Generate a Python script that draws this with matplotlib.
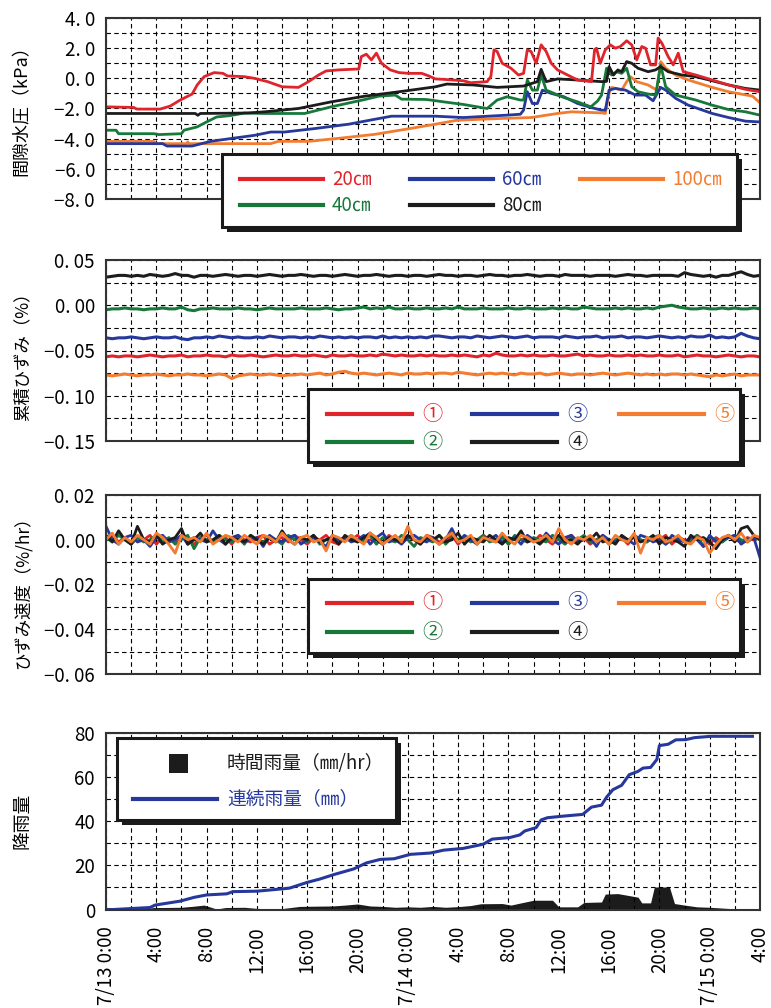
import numpy as np
import matplotlib
matplotlib.use('Agg')
import matplotlib.pyplot as plt
from matplotlib.patches import Rectangle
from matplotlib.lines import Line2D
from matplotlib.transforms import Affine2D

plt.rcParams['font.family'] = ['Noto Sans CJK JP', 'DejaVu Sans']
NUM_FONT = ['Noto Sans CJK JP', 'DejaVu Sans']

RED, GREEN, BLUE, ORANGE, BLACK = '#e0242b', '#17783a', '#26389b', '#f47c30', '#1c1c1c'

# ---- pore water pressure (kPa), hours from 7/13 0:00
red_t = [0, 2.2, 2.45, 4.3, 5.1, 5.9, 6.85, 7.25, 7.8, 8.6, 9.3, 9.65, 11, 11.8, 12.85, 14, 15.3, 16.1,
         16.9, 17.5, 18.5, 20.1, 20.3, 20.7, 21.1, 21.5, 21.9, 22.6, 23.3, 24.05, 25.1, 25.6, 26.2,
         26.85, 28.4, 29, 30.3, 30.6, 30.85, 31.1, 31.5, 32.2, 32.8, 33.2, 33.5, 33.8, 34.2, 34.6, 35,
         35.4, 35.9, 36.7, 37.5, 38.6, 38.85, 39.0, 39.3, 39.7, 40.1, 40.5, 40.9, 41.4, 41.8, 42.2,
         42.6, 42.9, 43.3, 43.7, 43.9, 44.2, 44.7, 45.1, 45.5, 45.9, 46.9, 48.2, 49.5, 50.85, 52]
red_v = [-1.89, -1.93, -2.04, -2.04, -1.84, -1.44, -1.04, -0.44, 0.11, 0.38, 0.33, 0.16, 0.11, 0.0, -0.22,
         -0.56, -0.6, -0.22, 0.22, 0.49, 0.56, 0.62, 1.44, 1.6, 1.22, 1.67, 1.0, 0.56, 0.38, 0.33, 0.33,
         0.18, -0.04, -0.07, -0.16, -0.29, -0.22, 0.11, 1.89, 1.78, 1.0, 0.67, 0.22, 0.33, 1.89, 1.78,
         1.0, 2.22, 1.78, 1.0, 0.56, 0.22, -0.11, -0.22, 1.9, 2.0, 1.0, 1.89, 2.22, 2.0, 2.11, 2.49,
         2.22, 1.22, 2.11, 2.0, 0.89, 0.89, 2.67, 2.33, 1.44, 0.89, 1.67, 0.44, 0.22, -0.11, -0.44,
         -0.73, -0.89]
black_t = [0, 7.1, 7.3, 7.5, 11.25, 12.6, 15.3, 17.9, 20.6, 23.3, 26.2, 27.1, 29.2, 31.1, 33.2, 34.3,
           34.6, 35.0, 35.9, 37.5, 39.4, 39.8, 40.0, 40.35, 40.7, 41.0, 41.4, 41.8, 42.3, 43.1, 43.7,
           44.1, 44.7, 45.8, 46.9, 48.2, 49.5, 50.85, 52]
black_v = [-2.33, -2.33, -2.45, -2.33, -2.3, -2.22, -2.0, -1.56, -1.18, -0.89, -0.56, -0.38, -0.44, -0.6,
           -0.51, -0.22, 0.6, -0.22, -0.04, -0.11, -0.22, -0.2, 0.78, 0.22, 0.56, 0.44, 1.11, 1.0, 0.67,
           0.44, 0.56, 0.78, 0.44, 0.22, 0.11, -0.16, -0.44, -0.67, -0.78]
green_t = [0, 0.8, 1.0, 3.8, 4.2, 6.0, 6.2, 7.25, 8.0, 8.8, 9.9, 11.0, 12.6, 15.8, 17.9, 20.6, 21.7, 23.0,
           23.5, 25.4, 25.8, 26.85, 28.4, 30.3, 31.1, 31.9, 32.95, 33.2, 33.5, 33.9, 34.3, 34.6, 35.0,
           36.4, 37.5, 38.55, 39.1, 39.4, 39.8, 40.2, 40.6, 41.0, 41.4, 41.8, 42.3, 43.1, 43.7, 44.1,
           44.5, 45.3, 46.9, 48.2, 49.5, 50.85, 52]
green_v = [-3.44, -3.44, -3.67, -3.67, -3.73, -3.67, -3.44, -3.22, -2.89, -2.56, -2.47, -2.3, -2.33, -2.33,
           -1.89, -1.4, -1.18, -1.11, -1.38, -1.4, -1.44, -1.56, -1.73, -2.0, -1.44, -1.22, -1.44, -1.44,
           -0.11, -0.78, -0.78, 0.22, -0.78, -1.27, -1.56, -1.89, -1.49, -1.11, 0.67, 0.22, 0.44, 0.33,
           0.67, -0.56, -0.89, -1.04, -1.11, 0.89, -0.56, -1.11, -1.44, -1.78, -2.07, -2.22, -2.44]
blue_t = [0, 4.5, 4.85, 6.85, 8.3, 10.2, 11.8, 13.1, 14.2, 16.6, 19.3, 21.4, 22.7, 26.2, 28.4, 31.9,
          32.95, 33.2, 33.5, 33.9, 34.3, 34.7, 35.4, 36.4, 37.5, 38.55, 39.4, 39.7, 40.0, 40.5, 41.3,
          42.1, 42.9, 43.5, 44.1, 44.5, 45.3, 46.3, 48.2, 49.5, 50.85, 52]
blue_v = [-4.33, -4.33, -4.49, -4.49, -4.18, -3.96, -3.78, -3.56, -3.56, -3.33, -3.04, -2.71, -2.51, -2.51,
          -2.6, -2.44, -2.38, -2.11, -0.89, -1.67, -1.67, -0.78, -1.0, -1.22, -1.67, -1.93, -2.11, -2.11,
          -0.78, -0.67, -0.78, -1.11, -1.11, -1.49, -0.6, -0.78, -1.33, -1.78, -2.33, -2.6, -2.84, -2.89]
orange_t = [0, 3.8, 4.0, 6.4, 6.5, 6.6, 13.1, 13.7, 16.1, 18.7, 21.4, 23.8, 26.2, 27.9, 31.1, 33.8, 35.9,
            37.0, 39.4, 39.7, 40.0, 40.2, 41.0, 41.4, 41.7, 42.2, 43.1, 43.8, 44.1, 44.5, 45.3, 46.3,
            48.2, 49.5, 51.4, 52]
orange_v = [-4.18, -4.18, -4.33, -4.33, -4.22, -4.33, -4.33, -4.18, -4.18, -3.96, -3.71, -3.38, -3.04,
            -2.78, -2.67, -2.6, -2.33, -2.22, -2.29, -2.33, -1.0, -0.6, -0.78, -0.22, 0.11, -0.22, -0.44,
            -0.78, 1.11, 0.67, 0.22, -0.11, -0.6, -0.89, -1.18, -1.62]

# ---- cumulative strain (0.001 %), every 30 min
t_s = np.arange(105) * 0.5
strain_red = [-57, -56, -57, -56, -56, -57, -56, -55, -56, -57, -56, -56, -55, -57, -56, -56, -55, -56, -56, -57,
              -55, -56, -56, -55, -56, -57, -56, -55, -56, -56, -55, -56, -56, -55, -56, -57, -55, -56, -56, -55,
              -56, -56, -55, -56, -54, -55, -56, -55, -56, -56, -55, -56, -55, -56, -56, -55, -56, -55, -56, -57,
              -55, -56, -53, -55, -56, -56, -55, -56, -55, -56, -56, -55, -56, -56, -55, -54, -56, -55, -56, -56,
              -55, -56, -56, -55, -56, -55, -56, -56, -55, -56, -56, -55, -57, -56, -55, -56, -56, -57, -56, -55,
              -56, -57, -56, -56, -57]
strain_green = [-5, -4, -4, -3, -4, -4, -5, -4, -4, -3, -4, -4, -2, -5, -6, -4, -4, -3, -4, -4,
                -4, -3, -4, -4, -5, -4, -3, -4, -4, -4, -4, -3, -4, -4, -4, -3, -4, -5, -4, -4,
                -3, -2, -4, -3, -4, -2, -4, -4, -3, -4, -4, -3, -4, -4, -3, -4, -2, -4, -4, -4,
                -3, -4, -4, -4, -3, -4, -4, -3, -4, -4, -4, -3, -4, -3, -4, -4, -2, -3, -4, -4,
                -4, -3, -4, -3, -4, -4, -3, -4, -2, -1, 0, -2, -3, -4, -4, -3, -4, -4, -3, -4,
                -3, -4, -4, -3, -4]
strain_blue = [-36, -37, -36, -36, -35, -36, -37, -36, -35, -36, -36, -35, -37, -38, -36, -36, -35, -36, -34, -35,
               -36, -35, -36, -36, -35, -36, -34, -35, -36, -35, -35, -36, -35, -36, -34, -35, -36, -35, -36, -35,
               -36, -35, -35, -36, -34, -36, -35, -36, -35, -36, -35, -36, -34, -34, -35, -36, -35, -35, -36, -34,
               -35, -36, -35, -34, -35, -36, -35, -34, -36, -35, -35, -35, -36, -34, -35, -36, -35, -35, -34, -36,
               -35, -35, -34, -36, -35, -35, -36, -35, -34, -35, -36, -35, -36, -34, -35, -35, -33, -36, -35, -36,
               -35, -31, -34, -36, -37]
strain_black = [31, 32, 33, 33, 32, 33, 32, 34, 33, 32, 33, 35, 33, 33, 31, 33, 33, 32, 33, 34,
                33, 32, 33, 33, 32, 33, 34, 33, 32, 33, 33, 34, 33, 32, 33, 33, 32, 33, 34, 33,
                32, 33, 33, 34, 33, 32, 33, 33, 32, 33, 33, 32, 33, 34, 33, 33, 32, 33, 33, 32,
                33, 34, 33, 33, 32, 33, 33, 34, 33, 32, 33, 33, 32, 34, 33, 33, 33, 32, 33, 33,
                33, 32, 33, 34, 33, 33, 32, 33, 33, 33, 33, 32, 36, 34, 33, 32, 33, 31, 33, 33,
                35, 37, 34, 32, 33]
strain_orange = [-77, -78, -77, -76, -77, -78, -77, -77, -76, -77, -78, -77, -77, -76, -77, -77, -78, -77, -76, -77,
                 -81, -78, -77, -76, -77, -77, -76, -77, -78, -77, -77, -76, -77, -76, -75, -77, -76, -74, -73, -75,
                 -76, -75, -76, -77, -76, -75, -76, -77, -75, -76, -76, -75, -76, -75, -75, -76, -74, -75, -76, -77,
                 -76, -75, -76, -75, -76, -77, -75, -76, -76, -75, -77, -76, -75, -76, -77, -76, -76, -77, -76, -75,
                 -76, -77, -76, -75, -76, -77, -76, -77, -76, -77, -76, -76, -77, -76, -77, -78, -79, -77, -78, -77,
                 -76, -78, -77, -77, -77]

# ---- strain rate (0.001 %/hr), every 30 min
rate_red = [0, 2, -1, 1, -2, 1, 0, 2, -2, 1, 0, -1, 2, 0, -2, 1, 2, -1, 0, 1,
            -2, 2, 0, -1, 1, 2, -2, 0, 1, -1, 2, 0, -2, 1, 0, 2, -1, -2, 1, 0,
            2, -1, 0, 1, -2, 2, 0, -1, 1, 0, -2, 2, 1, -1, 0, 2, -2, 1, 0, -1,
            2, 0, -1, 2, -2, 1, 0, 1, -1, 2, 0, -2, 1, 0, 2, -1, 1, -2, 0, 2,
            -1, 0, 1, -2, 2, 0, -1, 1, 0, 2, -2, 1, 0, -1, 2, 0, -2, 1, -1, 2,
            0, -1, 1, 0, 1]
rate_green = [1, -1, 2, 0, -2, 1, -1, 0, 2, -1, 1, -2, 0, 2, -4, 1, 0, -1, 2, 0,
              -1, 1, -2, 2, 0, -1, 1, 0, -2, 2, 0, 1, -1, 2, -2, 0, 1, -1, 0, 2,
              -1, 0, 2, -2, 1, 0, -1, 2, 0, -3, 1, 0, -1, 2, -2, 1, 0, 1, -1, 0,
              2, -1, 0, 1, -2, 2, 0, -1, 1, 0, -1, 2, 0, -2, 1, 0, 2, -1, 0, 1,
              -2, 0, 1, -1, 2, 0, -1, 1, 2, -2, 0, 1, -1, 0, 2, -3, 1, 0, -1, 1,
              2, 0, -1, 1, 0]
rate_blue = [6, 0, -2, 1, 2, -1, 0, -3, 1, 2, -1, 0, 2, -2, 1, 0, -1, 4, 0, -2,
             1, 2, -1, 0, 1, -3, 2, 0, -1, 1, 2, -2, 0, 1, -1, -3, 2, 0, 1, -1,
             0, 2, -2, 1, 3, -1, 0, -2, 1, 2, 0, -1, 1, -2, 0, 5, -1, 2, 0, -2,
             1, 0, 2, -1, 0, 1, -2, 2, 0, -1, 3, 0, -2, 1, 2, -1, 0, 1, -3, 2,
             0, -1, 1, 0, -2, 2, 1, -1, 0, -2, 2, 0, -1, 1, 0, -3, 2, -1, 0, 1,
             2, -2, 0, 1, -8]
rate_black = [2, -1, 4, 0, -2, 6, 0, -1, 2, -2, 0, 1, 5, -2, 0, 3, -1, 0, 2, -2,
              1, 0, -1, 2, 0, -2, 1, -1, 4, 0, -2, 1, 0, 2, -1, 0, 1, -2, 2, 0,
              -1, 1, 3, 0, -2, 1, 0, -1, 2, 0, -2, 1, 0, 2, -1, 0, 3, -2, 1, 0,
              -1, 2, 0, -2, 1, 0, 4, -1, 0, -2, 1, 0, 2, -1, 0, -2, 1, 0, 3, -1,
              0, -2, 2, 0, 1, -1, 0, 2, -2, 1, 0, -1, -3, 2, 0, 1, -1, -4, 0, 2,
              -1, 5, 6, 2, 0]
rate_orange = [0, 3, -2, 1, -1, 2, 0, -2, 3, 1, -2, -6, 2, 0, 1, -1, 3, -2, 0, 2,
               1, -1, 2, 0, -2, 2, 1, -1, 3, 0, -2, 1, 2, -1, 0, -5, 2, 1, -1, 2,
               0, -2, 3, 1, -2, 0, 2, -1, 6, 0, -1, 2, 0, -2, 1, 3, -1, 0, 2, -2,
               1, 0, -1, 3, 0, -2, 2, 1, -1, 0, 2, -1, 5, 0, -2, 1, 0, 2, -1, 1,
               -2, 2, 0, -1, 3, -6, 1, 0, 2, -1, 0, 2, -1, -2, 1, 0, -6, -2, 1, 2,
               0, 3, -1, 2, 1]

# ---- rainfall
rain_t = [0, 2, 3, 3.8, 4.5, 6, 7, 7.8, 8.8, 9.5, 11, 12, 13, 14, 15.4, 16.5, 18, 19, 20, 21,
          22, 23, 24, 25, 26, 27, 28, 29, 29.8, 31.5, 32.2, 33, 34, 35.5, 36, 37.5, 38, 39.4, 39.7, 40.7,
          42.3, 42.6, 43.3, 43.6, 44.8, 45.2, 46, 47, 48, 49.7, 51, 52]
rain_v = [0, 0, 0.2, 0.9, 0.9, 1.0, 1.5, 2.0, 0.2, 0.9, 1.0, 0.5, 0.3, 0.4, 1.4, 1.5, 1.6, 2.0, 2.5, 1.6,
          1.4, 1.0, 1.2, 1.0, 1.4, 1.0, 1.3, 1.8, 2.6, 2.7, 2.0, 3.0, 4.2, 4.2, 1.2, 1.2, 3.2, 3.4, 7.0, 7.2,
          5.6, 3.0, 3.0, 10.2, 10.2, 2.7, 2.0, 1.2, 1.0, 0.4, 0.2, 0]
cum_t = [0, 0.6, 3.5, 3.9, 5.9, 7, 8, 9.6, 10.1, 12, 14.1, 14.6, 16, 17, 18.1, 19.7, 20.7, 21.8, 22.9, 24.2,
         25.8, 26.85, 28.4, 30, 30.7, 32.1, 32.9, 33.3, 34.2, 34.6, 35.1, 36.5, 37.9, 38.6, 39.4, 39.8, 40.3,
         41, 41.6, 42.3, 42.7, 43.3, 43.8, 44.0, 44.7, 45.3, 46.1, 46.8, 48.1, 51.4]
cum_v = [0, 0, 0.9, 2.0, 3.8, 5.5, 6.6, 7.1, 8.1, 8.3, 9.4, 9.7, 12.3, 13.8, 15.8, 18.4, 21.1, 22.7, 23.0, 25.0,
         25.6, 26.9, 27.7, 29.6, 31.9, 32.6, 33.8, 35.6, 37.1, 40.6, 41.6, 42.4, 43.1, 46.4, 47.3, 50.9, 54.3,
         56.3, 61.1, 62.6, 64.1, 64.4, 68.0, 74.3, 74.9, 76.9, 77.0, 77.9, 78.5, 78.5]

xtick_labels = ['7/13 0:00', '4:00', '8:00', '12:00', '16:00', '20:00', '7/14 0:00',
                '4:00', '8:00', '12:00', '16:00', '20:00', '7/15 0:00', '4:00']

W, H = 771, 1008
fig = plt.figure(figsize=(W / 100, H / 100), dpi=100)
px = Affine2D().scale(1 / W, -1 / H).translate(0, 1) + fig.transFigure


def panel(top, bottom, yticks, yminor, fmt):
    ax = fig.add_axes([106 / W, 1 - bottom / H, 654 / W, (bottom - top) / H])
    ax.set_xlim(0, 52)
    ax.set_ylim(yticks[0], yticks[-1])
    ax.set_xticks(range(0, 53, 4))
    ax.set_xticks(range(0, 53, 2), minor=True)
    ax.set_yticks(yticks)
    ax.set_yticks(yminor, minor=True)
    ax.set_yticklabels([fmt(v) for v in yticks], family=NUM_FONT, fontsize=13.5)
    ax.set_xticklabels([])
    ax.grid(which='both', color='k', lw=0.8, ls=(0, (4, 3)))
    ax.tick_params(which='both', length=0, pad=8)
    for s in ax.spines.values():
        s.set_linewidth(1.5)
        s.set_color('#333333')
    return ax


def dfmt(n):
    return lambda v: f'{v:.{n}f}'.replace('.', '. ').replace('-', '\u2212')


def legend_box(x0, y0, x1, y1):
    fig.patches.append(Rectangle((x0 + 5, y0 + 5), x1 - x0, y1 - y0, transform=px,
                                 fc='#1a1a1a', ec='none', zorder=10))
    fig.patches.append(Rectangle((x0, y0), x1 - x0, y1 - y0, transform=px,
                                 fc='white', ec='#1a1a1a', lw=2.2, zorder=11))


def legend_line(x0, x1, y, color):
    fig.lines.append(Line2D([x0, x1], [y, y], transform=px, color=color, lw=3, zorder=12))


def legend_text(x, y, s, color, size=13.5, ha='left'):
    fig.text(x, y, s, transform=px, color=color, fontsize=size, ha=ha, va='center', zorder=13)


# panel 1: pore water pressure
ax1 = panel(18, 199, list(range(-8, 5, 2)), list(range(-8, 5, 1)), dfmt(1))
for t, v, c in [(orange_t, orange_v, ORANGE), (blue_t, blue_v, BLUE), (green_t, green_v, GREEN),
                (black_t, black_v, BLACK), (red_t, red_v, RED)]:
    ax1.plot(t, v, color=c, lw=2.0)
fig.text(22 / W, 1 - 106 / H, '間隙水圧（kPa）', rotation=90, ha='center', va='center', fontsize=13)

legend_box(222, 154, 737, 227)
for (x0, y, lab, c) in [(240, 179, '20㎝', RED), (410, 179, '60㎝', BLUE), (580, 179, '100㎝', ORANGE),
                        (240, 205, '40㎝', GREEN), (410, 205, '80㎝', BLACK)]:
    legend_line(x0, x0 + 83, y, c)
    legend_text(x0 + 92, y, lab, c)

# panel 2: cumulative strain
ax2 = panel(260, 441, [-0.15, -0.10, -0.05, 0.0, 0.05], list(np.arange(-0.15, 0.051, 0.025)), dfmt(2))
for v, c in [(strain_red, RED), (strain_green, GREEN), (strain_blue, BLUE),
             (strain_black, BLACK), (strain_orange, ORANGE)]:
    ax2.plot(t_s, np.array(v) * 0.001, color=c, lw=2.2)
fig.text(22 / W, 1 - 352 / H, '累積ひずみ（%）', rotation=90, ha='center', va='center', fontsize=12.5)

# panel 3: strain rate
ax3 = panel(495, 674, [-0.06, -0.04, -0.02, 0.0, 0.02], list(np.arange(-0.06, 0.021, 0.01)), dfmt(2))
for v, c in [(rate_red, RED), (rate_green, GREEN), (rate_blue, BLUE),
             (rate_black, BLACK), (rate_orange, ORANGE)]:
    ax3.plot(t_s, np.array(v) * 0.001, color=c, lw=2.0)
fig.text(22 / W, 1 - 588 / H, 'ひずみ速度（%/hr）', rotation=90, ha='center', va='center', fontsize=12.5)

for (y0, y1, r1, r2) in [(389, 462, 414, 442), (579, 653, 603, 632)]:
    legend_box(308, y0, 740, y1)
    for (x0, y, lab, c) in [(327, r1, '①', RED), (472, r1, '③', BLUE), (619, r1, '⑤', ORANGE),
                            (327, r2, '②', GREEN), (472, r2, '④', BLACK)]:
        legend_line(x0, x0 + 85, y, c)
        legend_text(x0 + 105, y, lab, c, size=14.5, ha='center')

# panel 4: rainfall
ax4 = panel(733, 909.5, [0, 20, 40, 60, 80], list(range(0, 81, 10)), lambda v: f'{v:d}')
ax4.fill_between(rain_t, rain_v, color=BLACK, lw=0)
ax4.plot(cum_t, cum_v, color=BLUE, lw=2.2)
ax4.set_xticklabels(xtick_labels, rotation=90, family=NUM_FONT, fontsize=13.5, va='top')
ax4.tick_params(axis='x', pad=12)
fig.text(22 / W, 1 - 821 / H, '降雨量', rotation=90, ha='center', va='center', fontsize=13.5)

legend_box(117, 738, 396, 820)
fig.patches.append(Rectangle((169, 754), 19, 19, transform=px, fc=BLACK, ec='none', zorder=12))
legend_text(227, 763, '時間雨量（㎜/hr）', BLACK)
legend_line(133, 217, 799, BLUE)
legend_text(227, 799, '連続雨量（㎜）', BLUE)

fig.savefig('out.png', dpi=100)
